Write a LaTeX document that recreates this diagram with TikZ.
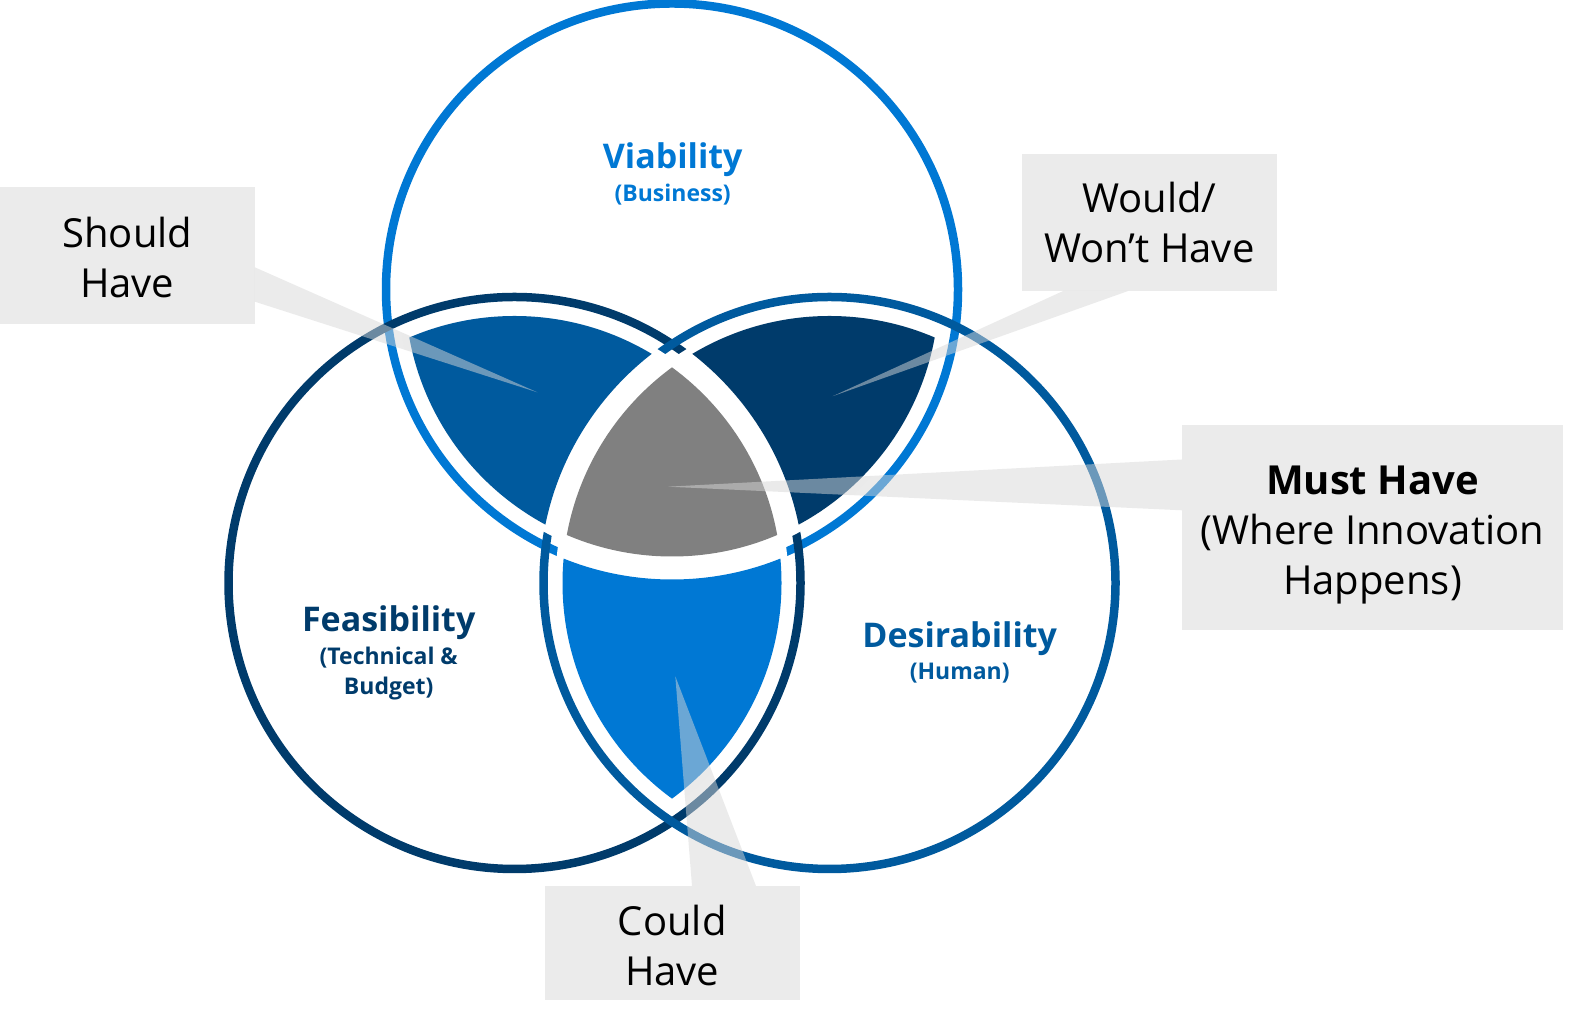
\documentclass[tikz,border=0pt]{standalone}
\usepackage{fontspec}
\setmainfont{Open Sans}
\usepackage{xcolor}
\definecolor{ColV}{RGB}{0,120,212}
\definecolor{ColF}{RGB}{0,59,107}
\definecolor{ColD}{RGB}{0,90,158}
\definecolor{ColG}{RGB}{128,128,128}
\definecolor{ColBox}{RGB}{235,235,235}
\definecolor{ColBeam}{RGB}{215,215,215}
\usepackage{tikz}
\tikzstyle{Ring}=[line width=8.5pt]
\tikzstyle{Callout}=[fill=ColBox,inner sep=0pt,align=center,
font=\fontsize{40}{50}\selectfont]
\tikzstyle{CalloutText}=[inner sep=0pt,align=center,
font=\fontsize{40}{50}\selectfont]
\tikzstyle{Beam}=[fill=ColBeam,fill opacity=.5]
\tikzstyle{Title}=[font=\fontsize{34}{40}\selectfont\bfseries]
\tikzstyle{Sub}=[font=\fontsize{23}{30}\selectfont\bfseries,align=center]
\newcommand{\Rad}{286}

\begin{document}
\begin{tikzpicture}[x=1pt,y=1pt]
    \useasboundingbox (0,0) rectangle (1579,1019);
    \coordinate (cV) at (672,729.5);
    \coordinate (cF) at (514.5,436);
    \coordinate (cD) at (829.5,436);
    % rings
    \draw[Ring,ColV] (cV) circle[radius=\Rad];
    \draw[Ring,ColF] (cF) circle[radius=\Rad];
    \draw[Ring,ColD] (cD) circle[radius=\Rad];
    % white over the inner arcs
    \begin{scope}
        \clip (cV) circle[radius=\Rad-12];
        \fill[white] (cF) circle[radius=\Rad-12];
        \fill[white] (cD) circle[radius=\Rad-12];
    \end{scope}
    \begin{scope}
        \clip (cF) circle[radius=\Rad-12];
        \fill[white] (cD) circle[radius=\Rad-12];
    \end{scope}
    % should
    \begin{scope}
        \clip (cV) circle[radius=\Rad-19];
        \clip (cF) circle[radius=\Rad-19];
        \fill[ColD,even odd rule] (0,0) rectangle (1579,1019)
            (cD) circle[radius=\Rad+4];
    \end{scope}
    % would
    \begin{scope}
        \clip (cV) circle[radius=\Rad-19];
        \clip (cD) circle[radius=\Rad-19];
        \fill[ColF,even odd rule] (0,0) rectangle (1579,1019)
            (cF) circle[radius=\Rad+4];
    \end{scope}
    % could
    \begin{scope}
        \clip (cF) circle[radius=\Rad-19];
        \clip (cD) circle[radius=\Rad-19];
        \fill[ColV,even odd rule] (0,0) rectangle (1579,1019)
            (cV) circle[radius=\Rad+4];
    \end{scope}
    % must
    \begin{scope}
        \clip (cV) circle[radius=\Rad-19];
        \clip (cF) circle[radius=\Rad-19];
        \fill[ColG] (cD) circle[radius=\Rad-19];
    \end{scope}
    % labels
    \node[Title,text=ColV](viab)at(672.7,859){Viability};
    \node[Sub,text=ColV](viabS)at(672.7,824.2){(Business)};
    \node[Title,text=ColF](feas)at(388.7,396.7){Feasibility};
    \node[Sub,text=ColF](feasS)at(388.7,345.8){(Technical \&\\Budget)};
    \node[Title,text=ColD](desi)at(959.7,380.6){Desirability};
    \node[Sub,text=ColD](desiS)at(959.7,345.8){(Human)};
    % callouts
    \node[Callout,minimum width=254.6pt,minimum height=137.3pt]
        (should)at(127.3,763.6){};
    \node[CalloutText](shouldText)at(127.3,761.6){Should\\Have};
    \node[Callout,minimum width=255.3pt,minimum height=136.7pt]
        (would)at(1149.4,796.6){Would/\\Won’t Have};
    \node[Callout,minimum width=381pt,minimum height=205.4pt]
        (must)at(1372.5,491.3){};
    \node[CalloutText](mustText)at(1372.5,484.3)
        {{\bfseries Must Have}\\(Where Innovation\\Happens)};
    \node[Callout,minimum width=254.8pt,minimum height=113.8pt]
        (could)at(672.2,75.9){};
    \node[CalloutText](couldText)at(672.2,73.9){Could\\Have};
    \coordinate(shouldTip)at(537.3,626.7);
    \coordinate(wouldTip)at(832.7,622.8);
    \coordinate(mustTip)at(668,532.3);
    \coordinate(couldTip)at(675.3,342.7);
    \fill[Beam]([yshift=-11.9pt]should.east)--(shouldTip)
        --([yshift=-46.3pt]should.east)--cycle;
    \fill[Beam]([xshift=-86.1pt]would.south)--(wouldTip)
        --([xshift=-21.1pt]would.south)--cycle;
    \fill[Beam]([yshift=68.2pt]must.west)--(mustTip)
        --([yshift=17.4pt]must.west)--cycle;
    \fill[Beam]([xshift=19.8pt]could.north)--(couldTip)
        --([xshift=83.8pt]could.north)--cycle;
\end{tikzpicture}
\end{document}
